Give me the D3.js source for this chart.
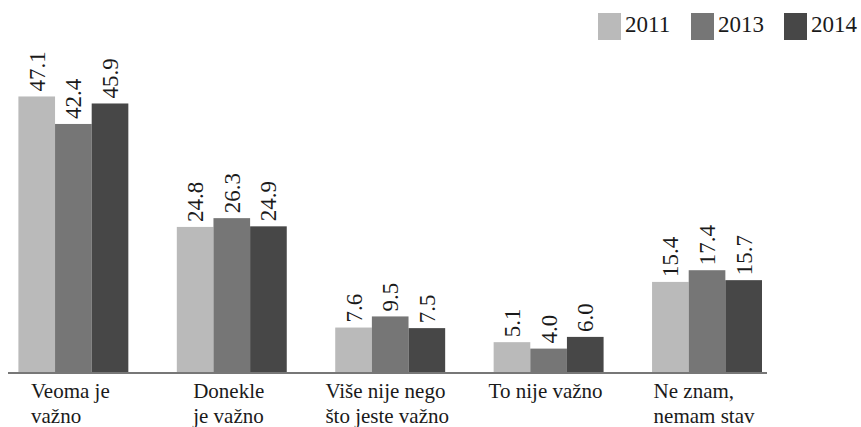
<!DOCTYPE html>
<html>
<head>
<meta charset="utf-8">
<script src="https://cdn.jsdelivr.net/npm/d3@7/dist/d3.min.js"></script>
<style>
  html, body { margin: 0; padding: 0; background: #fff; }
  svg { display: block; }
</style>
</head>
<body>
<svg id="chart" width="861" height="427"></svg>
<script>
// Survey answers, share of respondents (%) by year
const categories = [
  ["Veoma je", "važno"],
  ["Donekle", "je važno"],
  ["Više nije nego", "što jeste važno"],
  ["To nije važno"],
  ["Ne znam,", "nemam stav"]
];
const years = ["2011", "2013", "2014"];
const values2011 = [47.1, 24.8, 7.6, 5.1, 15.4];
const values2013 = [42.4, 26.3, 9.5, 4.0, 17.4];
const values2014 = [45.9, 24.9, 7.5, 6.0, 15.7];
const colors = ["#bababa", "#767676", "#474747"];

const series = [values2011, values2013, values2014];
const keys = categories.map(c => c.join(" "));

const FONT = "Liberation Serif";
const svg = d3.select("#chart");
const baseY = 372;

const x = d3.scaleBand()
  .domain(keys)
  .range([18.4, 762])
  .paddingInner(0.306)
  .paddingOuter(0);

const xs = d3.scaleBand()
  .domain(years)
  .range([0, x.bandwidth()])
  .padding(0);

const y = d3.scaleLinear()
  .domain([0, 50])
  .range([baseY, baseY - 292.5]);

const color = d3.scaleOrdinal().domain(years).range(colors);

const rows = keys.map((k, i) => ({
  key: k,
  lines: categories[i],
  vals: years.map((yr, j) => ({ year: yr, value: series[j][i] }))
}));

const groups = svg.append("g").selectAll("g")
  .data(rows)
  .join("g")
  .attr("transform", d => `translate(${x(d.key)},0)`);

groups.selectAll("rect")
  .data(d => d.vals)
  .join("rect")
  .attr("x", d => xs(d.year))
  .attr("y", d => y(d.value))
  .attr("width", xs.bandwidth())
  .attr("height", d => y(0) - y(d.value))
  .attr("fill", d => color(d.year));

// value labels, rotated, sitting on top of each bar
groups.selectAll("text.val")
  .data(d => d.vals)
  .join("text")
  .attr("class", "val")
  .attr("transform", d => `translate(${xs(d.year) + xs.bandwidth() / 2},${y(d.value) - 5}) rotate(-90)`)
  .attr("dy", "0.35em")
  .attr("text-anchor", "start")
  .attr("font-family", FONT)
  .attr("font-size", 23)
  .attr("fill", "#1a1a1a")
  .text(d => d.value.toFixed(1));

// baseline
svg.append("line")
  .attr("x1", 8).attr("x2", 767)
  .attr("y1", baseY + 1).attr("y2", baseY + 1)
  .attr("stroke", "#777")
  .attr("stroke-width", 2);

// category labels: left-aligned lines, block centred under the group
const labels = svg.append("g").selectAll("text.cat")
  .data(rows)
  .join("text")
  .attr("class", "cat")
  .attr("font-family", FONT)
  .attr("font-size", 21)
  .attr("fill", "#1a1a1a");

labels.each(function(d) {
  const t = d3.select(this);
  d.lines.forEach((ln, i) => {
    t.append("tspan").attr("y", 398 + i * 25).text(ln);
  });
  let maxW = 0;
  t.selectAll("tspan").each(function() {
    maxW = Math.max(maxW, this.getComputedTextLength());
  });
  const x0 = x(d.key) + x.bandwidth() / 2 - maxW / 2 - 3;
  t.selectAll("tspan").attr("x", x0);
});

// legend
const legend = svg.append("g").selectAll("g")
  .data(years)
  .join("g")
  .attr("transform", (d, i) => `translate(${598 + i * 93},13)`);

legend.append("rect")
  .attr("width", 23)
  .attr("height", 27)
  .attr("fill", d => color(d));

legend.append("text")
  .attr("x", 27)
  .attr("y", 19)
  .attr("font-family", FONT)
  .attr("font-size", 23)
  .attr("fill", "#1a1a1a")
  .text(d => d);
</script>
</body>
</html>
